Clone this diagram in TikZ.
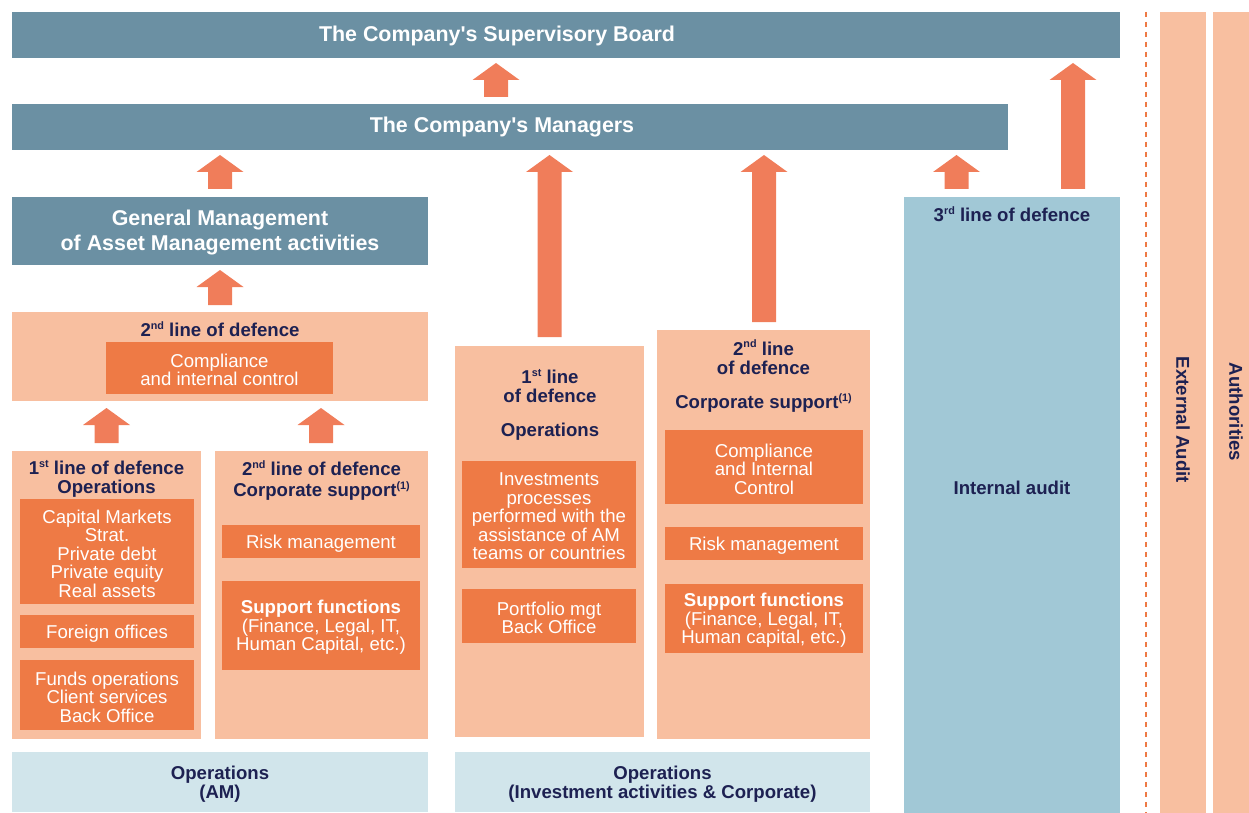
\documentclass[tikz,border=0pt]{standalone}
\usepackage{fontspec}
\setmainfont{Liberation Sans}
% same family without the TeX quote mapping, for straight apostrophes
\newfontfamily\plainfam{Liberation Sans}
\usetikzlibrary{fit,calc}

\definecolor{slate}{HTML}{6B90A3}
\definecolor{peach}{HTML}{F8BFA0}
\definecolor{orangebox}{HTML}{EE7A45}
\definecolor{arrowc}{HTML}{F07D5A}
\definecolor{paleblue}{HTML}{A1C8D6}
\definecolor{mistblue}{HTML}{D1E5EB}
\definecolor{navy}{HTML}{1D2152}

% small raised ordinal / footnote marks
\newcommand\sups[1]{\raisebox{0.75ex}{\fontsize{5.4}{5.4}\selectfont #1}}
\newcommand\apos{{\plainfam '}}

\tikzset{
  blk/.style={inner sep=0pt, outer sep=0pt, draw=none},
  bodytxt/.style={font=\fontsize{9.3}{9.25}\selectfont, align=center, inner sep=0pt, text=white, yshift=-1pt},
  headtxt/.style={font=\bfseries\fontsize{9.3}{9.5}\selectfont, align=center, inner sep=0pt, text=navy},
  titletxt/.style={font=\bfseries\fontsize{10.7}{12.5}\selectfont, align=center, inner sep=0pt, text=white},
}

% upward block arrow: x, from anchor, to anchor, bottom gap, top gap
\newcommand\blockarrow[5]{%
  \fill[arrowc] let \p1=(#1,0), \p2=(#2), \p3=(#3) in
    (\x1-6pt,\y2+#4) -- (\x1-6pt,\y3-#5-8.5pt) -- (\x1-11.75pt,\y3-#5-8.5pt)
    -- (\x1,\y3-#5) -- (\x1+11.75pt,\y3-#5-8.5pt) -- (\x1+6pt,\y3-#5-8.5pt)
    -- (\x1+6pt,\y2+#4) -- cycle;}

\begin{document}
\begin{tikzpicture}[x=0.5pt,y=-0.5pt]
\useasboundingbox (0,0) rectangle (1249,813);

% governance bars
\node[blk, fill=slate, fit={(12,12)(1120,58)}] (sup) {};
\node[titletxt] at (497,35.5) {The Company\apos s Supervisory Board};
\node[blk, fill=slate, fit={(12,104)(1008,150)}] (mgr) {};
\node[titletxt] at (502,127.5) {The Company\apos s Managers};
\node[blk, fill=slate, fit={(12,197)(428,265)}] (gm) {};
\node[titletxt] at (220,233) {General Management\\of Asset Management activities};

% asset management: 2nd line
\node[blk, fill=peach, fit={(12,312)(428,401)}] (amtwo) {};
\node[headtxt] at (220,329) {2\sups{nd} line of defence};
\node[blk, fill=orangebox, fit={(106,342)(333,394)}] (amcomp) {};
\node[bodytxt] at (amcomp.center) {Compliance\\and internal control};

% asset management: 1st line
\node[blk, fill=peach, fit={(12,451)(201,739)}] (amone) {};
\node[headtxt] at (106.5,479) {1\sups{st} line of defence\\Operations};
\node[blk, fill=orangebox, fit={(20,499)(194,604)}] (capm) {};
\node[bodytxt] at (capm.center) {Capital Markets\\Strat.\\Private debt\\Private equity\\Real assets};
\node[blk, fill=orangebox, fit={(20,615)(194,648)}] (foreign) {};
\node[bodytxt] at (foreign.center) {Foreign offices};
\node[blk, fill=orangebox, fit={(20,660)(194,730)}] (funds) {};
\node[bodytxt] at (funds.center) {Funds operations\\Client services\\Back Office};

% asset management: corporate support
\node[blk, fill=peach, fit={(215,451)(428,739)}] (amcorp) {};
\node[headtxt] at (321.5,468) {2\sups{nd} line of defence};
\node[headtxt] at (321.5,491) {Corporate support\sups{(1)}};
\node[blk, fill=orangebox, fit={(222,525)(420,558)}] (amrisk) {};
\node[bodytxt] at (amrisk.center) {Risk management};
\node[blk, fill=orangebox, fit={(222,581)(420,670)}] (amsupp) {};
\node[bodytxt] at (amsupp.center) {\textbf{Support functions}\\(Finance, Legal, IT,\\Human Capital, etc.)};

% investment activities: 1st line
\node[blk, fill=peach, fit={(455,346)(644,737)}] (invone) {};
\node[headtxt] at (550,386) {1\sups{st} line\\of defence};
\node[headtxt] at (550,432) {Operations};
\node[blk, fill=orangebox, fit={(462,461)(636,568)}] (invproc) {};
\node[bodytxt] at (invproc.center) {Investments\\processes\\performed with the\\assistance of AM\\teams or countries};
\node[blk, fill=orangebox, fit={(462,589)(636,643)}] (pfm) {};
\node[bodytxt] at (pfm.center) {Portfolio mgt\\Back Office};

% corporate: 2nd line
\node[blk, fill=peach, fit={(657,330)(870,739)}] (cortwo) {};
\node[headtxt] at (763.5,357) {2\sups{nd} line\\of defence};
\node[headtxt] at (763.5,403) {Corporate support\sups{(1)}};
\node[blk, fill=orangebox, fit={(665,430)(863,504)}] (corcomp) {};
\node[bodytxt] at (corcomp.center) {Compliance\\and Internal\\Control};
\node[blk, fill=orangebox, fit={(665,527)(863,560)}] (corrisk) {};
\node[bodytxt] at (corrisk.center) {Risk management};
\node[blk, fill=orangebox, fit={(665,584)(863,653)}] (corsupp) {};
\node[bodytxt] at (corsupp.center) {\textbf{Support functions}\\(Finance, Legal, IT,\\Human capital, etc.)};

% 3rd line
\node[blk, fill=paleblue, fit={(904,197)(1120,813)}] (three) {};
\node[headtxt] at (1012,214) {3\sups{rd} line of defence};
\node[headtxt] at (1012,488) {Internal audit};

% bottom operations bands
\node[blk, fill=mistblue, fit={(12,752)(428,812)}] (opam) {};
\node[headtxt, yshift=-1pt] at (opam.center) {Operations\\(AM)};
\node[blk, fill=mistblue, fit={(455,752)(870,812)}] (opinv) {};
\node[headtxt, yshift=-1pt] at (opinv.center) {Operations\\(Investment activities \& Corporate)};

% external parties
\draw[orangebox, line width=1pt, dash pattern=on 2.5pt off 2.5pt] (1146,12) -- (1146,813);
\node[blk, fill=peach, fit={(1160,12)(1206,813)}] (extaud) {};
\node[headtxt, rotate=-90] at (1183,420) {External Audit};
\node[blk, fill=peach, fit={(1213,12)(1249,813)}] (auth) {};
\node[headtxt, rotate=-90] at (1236,412) {Authorities};

% reporting arrows
\blockarrow{496}{mgr.north}{sup.south}{3.5pt}{2.5pt}
\blockarrow{1073}{three.north}{sup.south}{4pt}{2.5pt}
\blockarrow{220}{gm.north}{mgr.south}{4pt}{2.5pt}
\blockarrow{549.5}{invone.north}{mgr.south}{4.5pt}{2.5pt}
\blockarrow{764}{cortwo.north}{mgr.south}{4pt}{2.5pt}
\blockarrow{956.5}{three.north}{mgr.south}{4pt}{2.5pt}
\blockarrow{220}{amtwo.north}{gm.south}{3.5pt}{2.5pt}
\blockarrow{106.5}{amone.north}{amtwo.south}{4pt}{3.5pt}
\blockarrow{321}{amcorp.north}{amtwo.south}{4pt}{3.5pt}
\end{tikzpicture}
\end{document}
